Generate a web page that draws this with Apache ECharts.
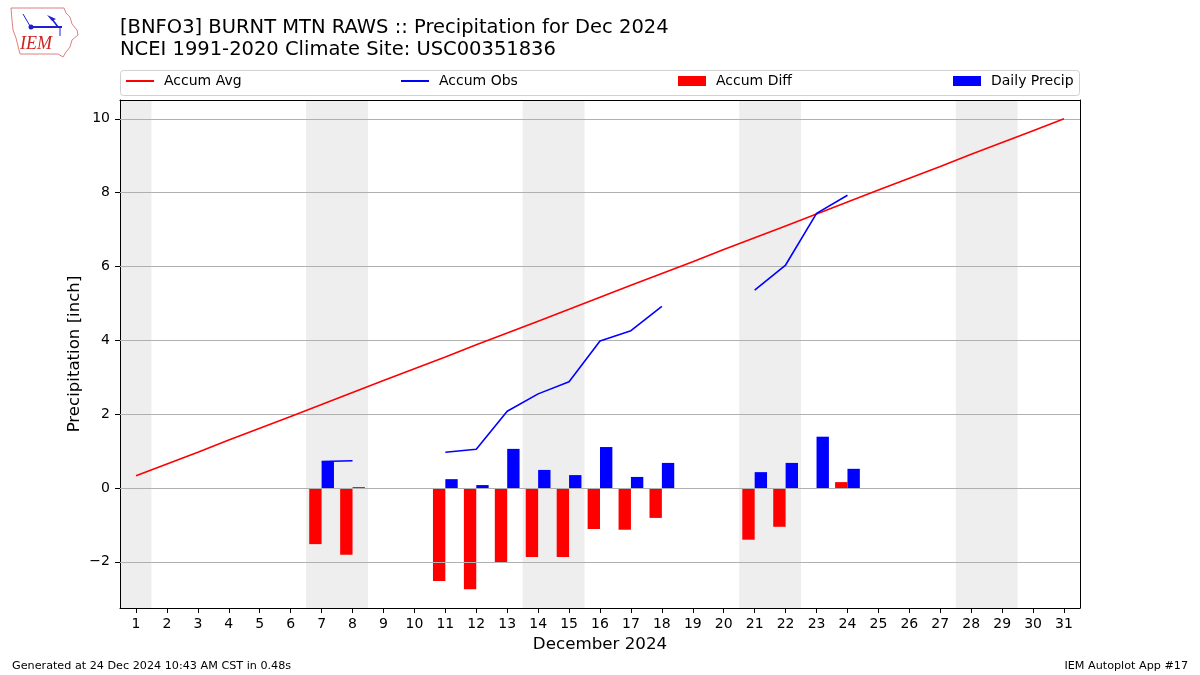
<!DOCTYPE html>
<html>
<head>
<meta charset="utf-8">
<script src="https://cdn.jsdelivr.net/npm/echarts@6/dist/echarts.min.js"></script>
<style>html,body{margin:0;padding:0;background:#fff}#chart{width:1200px;height:675px}</style>
</head>
<body>
<div id="chart"></div>
<script>
// ---- data ----
const days = [1,2,3,4,5,6,7,8,9,10,11,12,13,14,15,16,17,18,19,20,21,22,23,24,25,26,27,28,29,30,31];
const accumAvg = [0.33,0.65,0.97,1.30,1.62,1.94,2.26,2.59,2.91,3.23,3.55,3.88,4.20,4.52,4.84,5.17,5.49,5.81,6.13,6.46,6.78,7.10,7.42,7.75,8.07,8.39,8.71,9.04,9.36,9.68,10.00];
const accumObs = [null,null,null,null,null,null,0.72,0.74,null,null,0.97,1.05,2.08,2.55,2.88,3.98,4.26,4.92,null,null,5.36,6.04,7.44,7.93,null,null,null,null,null,null,null];
const barDays = [7,8,11,12,13,14,15,16,17,18,21,22,23,24];
const accumDiff = [-1.52,-1.81,-2.52,-2.74,-2.03,-1.87,-1.87,-1.11,-1.13,-0.81,-1.40,-1.05,0.00,0.16];
const dailyPrecip = [0.71,0.02,0.24,0.08,1.06,0.49,0.35,1.11,0.30,0.68,0.43,0.68,1.39,0.52];
const weekends = [[0.5,1.5],[6.5,8.5],[13.5,15.5],[20.5,22.5],[27.5,29.5]];
const yTicks = [-2,0,2,4,6,8,10];
const titleLines = ['[BNFO3] BURNT MTN RAWS :: Precipitation for Dec 2024','NCEI 1991-2020 Climate Site: USC00351836'];

const FONT = 'DejaVu Sans';
const chart = echarts.init(document.getElementById('chart'), null, {renderer:'canvas'});

function barRender(offset, color){
  return function(params, api){
    const x = api.value(0), y = api.value(1);
    const p0 = api.coord([x + offset - 0.2, 0]);
    const p1 = api.coord([x + offset + 0.2, y]);
    return {type:'rect', shape:{x:p0[0], y:Math.min(p0[1],p1[1]), width:p1[0]-p0[0], height:Math.abs(p1[1]-p0[1])}, style:{fill:color}};
  };
}

const legendCommon = {top:74, padding:0, itemWidth:28, orient:'horizontal', selectedMode:false,
  textStyle:{fontFamily:FONT, fontSize:14, color:'#000', padding:[0,0,0,5]}};

const XMIN = 0.483, XMAX = 31.517, YMIN = -3.25, YMAX = 10.51;

const option = {
  animation:false,
  backgroundColor:'#fff',
  title:{text:titleLines.join('\n'), left:120, top:17, padding:0,
    textStyle:{fontFamily:FONT, fontSize:19.5, fontWeight:'normal', color:'#000', lineHeight:22}},
  legend:[
    Object.assign({}, legendCommon, {left:126, itemHeight:2, data:[{name:'Accum Avg', icon:'rect'}]}),
    Object.assign({}, legendCommon, {left:401, itemHeight:2, data:[{name:'Accum Obs', icon:'rect'}]}),
    Object.assign({}, legendCommon, {left:678, itemHeight:10, data:[{name:'Accum Diff', icon:'rect'}]}),
    Object.assign({}, legendCommon, {left:953, itemHeight:10, data:[{name:'Daily Precip', icon:'rect'}]})
  ],
  grid:{left:120, right:120, top:100, bottom:67, show:false, containLabel:false},
  xAxis:[{type:'value', min:XMIN, max:XMAX, position:'bottom',
    name:'December 2024', nameLocation:'middle', nameGap:28,
    nameTextStyle:{fontFamily:FONT, fontSize:16.7, color:'#000'},
    axisLine:{show:true, onZero:false, lineStyle:{color:'#000'}},
    axisTick:{show:true, length:5, customValues:days, lineStyle:{color:'#000'}},
    axisLabel:{customValues:days, fontFamily:FONT, fontSize:14, color:'#000', margin:9},
    splitLine:{show:false}},
    {type:'value', min:XMIN, max:XMAX, position:'top',
    axisLine:{show:true, onZero:false, lineStyle:{color:'#000'}},
    axisTick:{show:false}, axisLabel:{show:false}, splitLine:{show:false}}],
  yAxis:[{type:'value', min:YMIN, max:YMAX, position:'left',
    name:'Precipitation [inch]', nameLocation:'middle', nameGap:37, nameMoveOverlap:false,
    nameTextStyle:{fontFamily:FONT, fontSize:16.6, color:'#000'},
    axisLine:{show:true, onZero:false, lineStyle:{color:'#000'}},
    axisTick:{show:true, length:5, customValues:yTicks, lineStyle:{color:'#000'}},
    axisLabel:{customValues:yTicks, fontFamily:FONT, fontSize:14, color:'#000', margin:10,
      formatter:function(v){ return v < 0 ? '\u2212' + Math.abs(v) : String(v); }},
    splitLine:{show:false}},
    {type:'value', min:YMIN, max:YMAX, position:'right',
    axisLine:{show:true, onZero:false, lineStyle:{color:'#000'}},
    axisTick:{show:false}, axisLabel:{show:false}, splitLine:{show:false}}],
  series:[
    {name:'Accum Avg', type:'line', data:days.map((d,i)=>[d, accumAvg[i]]), showSymbol:false, symbol:'none',
      itemStyle:{color:'#ff0000'}, lineStyle:{color:'#ff0000', width:1.6}, z:5,
      markArea:{silent:true, itemStyle:{color:'#eeeeee'}, z:0,
        data:weekends.map(w=>[{xAxis:w[0]},{xAxis:w[1]}])},
      markLine:{silent:true, symbol:'none', label:{show:false}, animation:false,
        lineStyle:{color:'#b0b0b0', width:1, type:'solid'},
        data:yTicks.map(v=>({yAxis:v}))}},
    {name:'Accum Obs', type:'line', data:days.map((d,i)=>[d, accumObs[i]]), showSymbol:false, symbol:'none', connectNulls:false,
      itemStyle:{color:'#0000ff'}, lineStyle:{color:'#0000ff', width:1.6}, z:6},
    {name:'Accum Diff', type:'custom', renderItem:barRender(-0.2,'#ff0000'), itemStyle:{color:'#ff0000'},
      data:barDays.map((d,i)=>[d, accumDiff[i]]), z:4},
    {name:'Daily Precip', type:'custom', renderItem:barRender(0.2,'#0000ff'), itemStyle:{color:'#0000ff'},
      data:barDays.map((d,i)=>[d, dailyPrecip[i]]), z:4}
  ],
  graphic:[
    {type:'rect', z:-1, shape:{x:120.5, y:70.5, width:959, height:25, r:3}, style:{fill:'#fff', stroke:'#d0d0d0', lineWidth:1}},
    // logo (approximate)
    {type:'polyline', shape:{points:[[11,8],[64,8],[66,13],[70,17],[72,24],[77,30],[78,35],[72,40],[70,47],[66,52],[63,57],[58,54],[20,54],[18,46],[16,38],[13,30],[12,20],[11,8]]},
      style:{stroke:'#e08080', fill:null, lineWidth:1}},
    {type:'line', shape:{x1:30, y1:27, x2:62, y2:27}, style:{stroke:'#2020d0', lineWidth:2}},
    {type:'circle', shape:{cx:31, cy:27, r:2.5}, style:{fill:'#2020d0'}},
    {type:'line', shape:{x1:23, y1:14, x2:30, y2:26}, style:{stroke:'#2020d0', lineWidth:1}},
    {type:'polygon', shape:{points:[[47,15],[56,19],[52,21]]}, style:{fill:'#2020d0'}},
    {type:'line', shape:{x1:52, y1:19, x2:58, y2:27}, style:{stroke:'#2020d0', lineWidth:1.5}},
    {type:'line', shape:{x1:60, y1:27, x2:60, y2:36}, style:{stroke:'#2020d0', lineWidth:1}},
    {type:'text', left:20, top:35, style:{text:'IEM', font:'italic 18px "Liberation Serif"', fill:'#cc2222'}},
    // footer
    {type:'text', left:12, top:661, style:{text:'Generated at 24 Dec 2024 10:43 AM CST in 0.48s', font:'11.2px "DejaVu Sans"', fill:'#000'}},
    {type:'text', right:12, top:661, style:{text:'IEM Autoplot App #17', font:'11.2px "DejaVu Sans"', fill:'#000'}}
  ]
};
chart.setOption(option);
</script>
</body>
</html>
